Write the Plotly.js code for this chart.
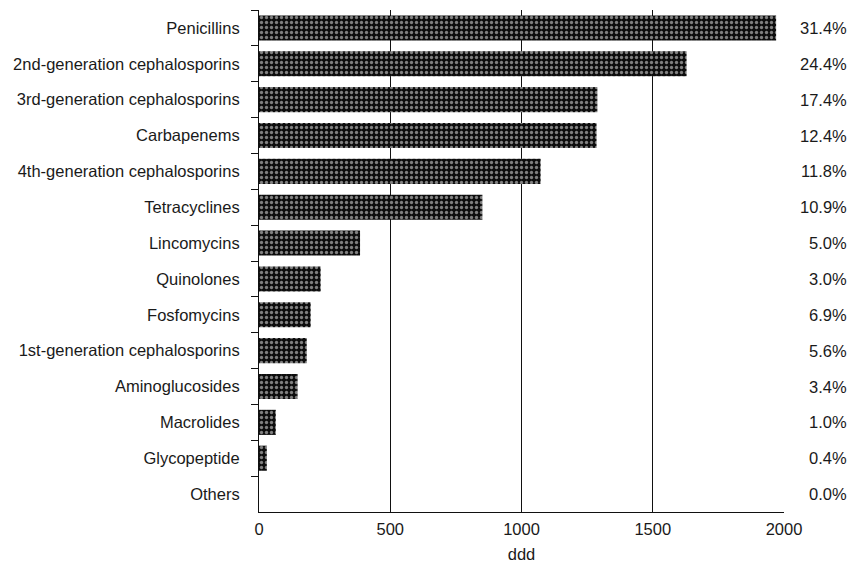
<!DOCTYPE html>
<html>
<head>
<meta charset="utf-8">
<script src="https://cdn.plot.ly/plotly-3.0.1.min.js"></script>
<style>html,body{margin:0;padding:0;background:#fff}#chart{width:851px;height:567px}</style>
</head>
<body>
<div id="chart"></div>
<script>
const categories = ["Penicillins","2nd-generation cephalosporins","3rd-generation cephalosporins","Carbapenems","4th-generation cephalosporins","Tetracyclines","Lincomycins","Quinolones","Fosfomycins","1st-generation cephalosporins","Aminoglucosides","Macrolides","Glycopeptide","Others"];
const dddValues = [1970,1629,1289,1286,1073,851,385,235,197,182,147,64,30,0];
const percentLabels = ["31.4%","24.4%","17.4%","12.4%","11.8%","10.9%","5.0%","3.0%","6.9%","5.6%","3.4%","1.0%","0.4%","0.0%"];
const xTicks = [0,500,1000,1500,2000];

const font = {family: "Liberation Sans, Arial, sans-serif", size: 16.5, color: "#1a1a1a"};

const trace = {
  type: "bar",
  orientation: "h",
  x: dddValues,
  y: categories,
  width: 0.7,
  marker: {
    color: "#111",
    line: {width: 0},
    pattern: {shape: ".", bgcolor: "#0d0d0d", fgcolor: "#f4f4f4", size: 5, solidity: 0.35, fillmode: "overlay"}
  },
  hoverinfo: "x+y"
};

const annotations = categories.map((c, i) => ({
  xref: "paper", yref: "y", x: 1.123, y: c,
  xanchor: "right", yanchor: "middle",
  text: percentLabels[i], showarrow: false, font: font
}));

const layout = {
  width: 851, height: 567,
  margin: {l: 259, r: 67, t: 10, b: 55},
  paper_bgcolor: "#fff", plot_bgcolor: "#fff",
  font: font,
  showlegend: false,
  xaxis: {
    range: [0, 2000], tickvals: xTicks, ticks: "",
    showgrid: true, gridcolor: "#111", gridwidth: 1,
    zeroline: false, showline: true, linecolor: "#111", linewidth: 1,
    tickfont: font, ticklabelstandoff: 2,
    title: {text: "ddd", font: font, standoff: 11}
  },
  yaxis: {
    categoryorder: "array", categoryarray: categories, autorange: "reversed",
    ticks: "outside", tickson: "boundaries", ticklen: 7, tickcolor: "#111", tickwidth: 1,
    showline: true, linecolor: "#111", linewidth: 1, showgrid: false, zeroline: false,
    ticklabelstandoff: 15,
    tickfont: font
  },
  annotations: annotations
};

Plotly.newPlot("chart", [trace], layout, {displayModeBar: false, staticPlot: true});
</script>
</body>
</html>
